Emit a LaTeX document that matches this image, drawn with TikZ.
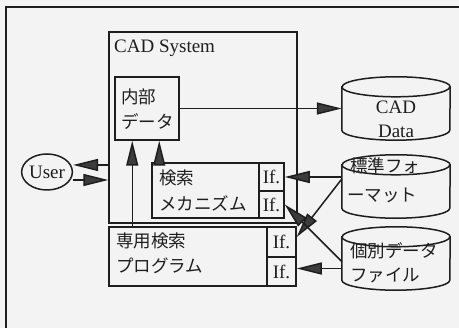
\documentclass[tikz,border=0pt]{standalone}
\usepackage{fontspec}
\setmainfont{Liberation Serif}
\newfontfamily\jp{Noto Sans CJK JP}
\usetikzlibrary{arrows.meta,shapes.geometric}
\definecolor{bg}{RGB}{243,243,243}
\definecolor{ink}{RGB}{30,30,30}
\definecolor{tipc}{RGB}{60,60,60}
\newcommand\cylpath[1]{%
  \draw[ln,fill=bg] ([yshift=-10pt]#1.north west) -- ([yshift=10pt]#1.south west)
    arc[start angle=180,end angle=360,x radius=54pt,y radius=10pt]
    -- ([yshift=-10pt]#1.north east)
    arc[start angle=0,end angle=180,x radius=54pt,y radius=10pt] -- cycle;
  \draw[ln] ([yshift=-10pt]#1.north west)
    arc[start angle=180,end angle=360,x radius=54pt,y radius=10pt];}
\begin{document}
\begin{tikzpicture}[x=1pt,y=-1pt,
  ln/.style={draw=ink,line width=1.5pt},
  rbox/.style 2 args={ln,fill=bg,rectangle,inner sep=0pt,minimum width=#1,minimum height=#2},
  ghost/.style 2 args={rectangle,inner sep=0pt,minimum width=#1,minimum height=#2},
  lat/.style={inner sep=0pt,text=ink,font=\fontsize{19}{22}\selectfont},
  jpt/.style={inner sep=0pt,anchor=west,text=ink,font=\jp\fontsize{17.5}{22}\selectfont},
  arr/.style={ln,-{Triangle[length=25pt,width=12pt,fill=tipc]}}]
\useasboundingbox (0,0) rectangle (459,328);
\fill[bg] (0,0) rectangle (459,328);
\draw[ln] (6,328) -- (6,7) -- (459,7);
% CAD system
\node[rbox={188pt}{191pt}] (sys) at (203,127.5) {};
\node[lat,anchor=west] (systxt) at (114,48) {CAD System};
\node[rbox={64pt}{63pt}] (int) at (147,108.5) {};
\node[jpt] (int1) at (121,97) {内部};
\node[jpt] (int2) at (121,122) {データ};
\node[rbox={107pt}{55pt}] (mech) at (205.5,190.5) {};
\node[rbox={25pt}{28pt},lat] (if1) at (271.5,177) {If.};
\node[rbox={25pt}{27pt},lat] (if2) at (271.5,204.5) {If.};
\node[jpt] (mech1) at (159,178) {検索};
\node[jpt] (mech2) at (159,203) {メカニズム};
% program
\node[rbox={158pt}{59pt}] (prog) at (188,256.5) {};
\node[rbox={29pt}{30pt},lat] (pif1) at (281.5,242) {If.};
\node[rbox={29pt}{29pt},lat] (pif2) at (281.5,271.5) {If.};
\node[jpt] (prog1) at (116,241) {専用検索};
\node[jpt] (prog2) at (116,266) {プログラム};
% user
\node[ellipse,ln,fill=bg,inner sep=0pt,minimum width=46pt,minimum height=36pt,lat] (user) at (47,172) {User};
% cylinders
\node[ghost={108pt}{63pt}] (cadd) at (396,108.5) {};
\node[ghost={108pt}{63pt}] (std) at (396,186.5) {};
\node[ghost={108pt}{63pt}] (ind) at (396,258.5) {};
\cylpath{cadd}
\cylpath{std}
\cylpath{ind}
\node[lat] (cadd1) at (396,107) {CAD};
\node[lat] (cadd2) at (396,131) {Data};
\node[jpt] (std1) at (350,166) {標準フォ};
\node[jpt] (std2) at (347,195) {ーマット};
\node[jpt] (ind1) at (350,251) {個別データ};
\node[jpt] (ind2) at (350,275) {ファイル};
% arrows
\draw[arr] (int.east) -- (int.east -| cadd.west);
\draw[arr] ([xshift=8pt]mech.north west) -- ([xshift=8pt]mech.north west |- int.south);
\draw[arr] ([xshift=24pt]prog.north west) -- ([xshift=24pt]prog.north west |- int.south);
\draw[arr] ([yshift=7pt]user.east -| sys.west) -- ([yshift=7pt]user.east);
\draw[arr] ([yshift=-8pt]user.east) -- ([yshift=-8pt]user.east -| sys.west);
\draw[arr] (if1.east -| std.west) -- (if1.east);
\draw[arr] ([yshift=-2pt]if1.east -| std.west) -- ([yshift=5pt]pif1.east);
\draw[arr] ([yshift=-3pt]ind.west) -- (if2.east);
\draw[arr] ([yshift=3pt]pif2.east -| ind.west) -- ([yshift=3pt]pif2.east);
\end{tikzpicture}
\end{document}
